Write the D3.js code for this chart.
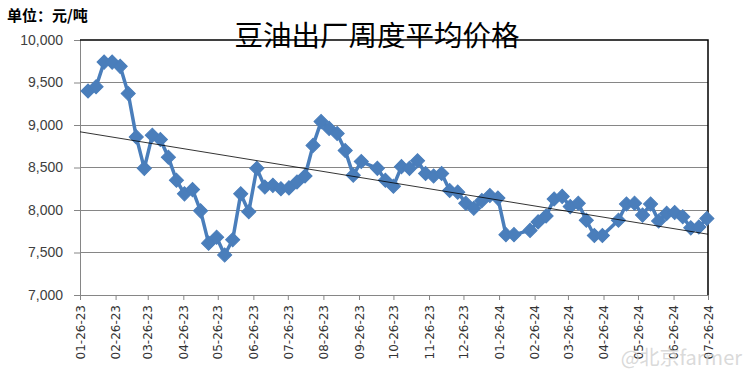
<!DOCTYPE html>
<html>
<head>
<meta charset="utf-8">
<script src="https://cdn.jsdelivr.net/npm/d3@7"></script>
<style>
  body { margin: 0; background: #fff; }
  svg { display: block; }
</style>
</head>
<body>
<div id="chart"></div>
<script>
// weekly soybean oil ex-factory price (元/吨), Thursdays
const dates = [
  "2023-02-02","2023-02-09","2023-02-16","2023-02-23","2023-03-02","2023-03-09","2023-03-16","2023-03-23","2023-03-30",
  "2023-04-06","2023-04-13","2023-04-20","2023-04-27","2023-05-04","2023-05-11","2023-05-18","2023-05-25",
  "2023-06-01","2023-06-08","2023-06-15","2023-06-22","2023-06-29","2023-07-06","2023-07-13","2023-07-20","2023-07-27",
  "2023-08-03","2023-08-10","2023-08-17","2023-08-24","2023-08-31","2023-09-07","2023-09-14","2023-09-21","2023-09-28",
  "2023-10-12","2023-10-19","2023-10-26","2023-11-02","2023-11-09","2023-11-16","2023-11-23","2023-11-30",
  "2023-12-07","2023-12-14","2023-12-21","2023-12-28","2024-01-04","2024-01-11","2024-01-18","2024-01-25",
  "2024-02-01","2024-02-08","2024-02-22","2024-02-29","2024-03-07","2024-03-14","2024-03-21","2024-03-28",
  "2024-04-04","2024-04-11","2024-04-18","2024-04-25","2024-05-09","2024-05-16","2024-05-23","2024-05-30",
  "2024-06-06","2024-06-13","2024-06-20","2024-06-27","2024-07-04","2024-07-11","2024-07-18","2024-07-25"
];
const prices = [
  9400, 9450, 9740, 9740, 9690, 9370, 8860, 8490, 8880,
  8830, 8620, 8350, 8190, 8240, 7990, 7610, 7680,
  7470, 7650, 8190, 7980, 8490, 8270, 8290, 8250, 8260,
  8330, 8400, 8760, 9040, 8960, 8900, 8700, 8410, 8570,
  8490, 8350, 8280, 8510, 8490, 8580, 8430, 8400,
  8430, 8230, 8210, 8080, 8020, 8110, 8170, 8140,
  7710, 7710, 7760, 7860, 7930, 8130, 8160, 8040,
  8080, 7880, 7700, 7700, 7880, 8070, 8080, 7940,
  8070, 7870, 7960, 7970, 7920, 7790, 7800, 7900
];

const xTickLabels = [
  "01-26-23","02-26-23","03-26-23","04-26-23","05-26-23","06-26-23","07-26-23","08-26-23","09-26-23","10-26-23",
  "11-26-23","12-26-23","01-26-24","02-26-24","03-26-24","04-26-24","05-26-24","06-26-24","07-26-24"
];
const yTicks = [7000, 7500, 8000, 8500, 9000, 9500, 10000];

// linear trendline read at the axis ends
const trendDates = ["2023-01-26", "2024-07-26"];
const trendValues = [8920, 7715];

const title = "豆油出厂周度平均价格";
const unitLabel = "单位：元/吨";

const width = 750;
const height = 377;
const margin = { top: 40, right: 42, bottom: 82, left: 80 };

const parseDate = d3.timeParse("%Y-%m-%d");
const parseTick = d3.timeParse("%m-%d-%y");

const data = dates.map((d, i) => ({ date: parseDate(d), value: prices[i] }));

const svg = d3.select("#chart")
  .append("svg")
  .attr("width", width)
  .attr("height", height)
  .style("background", "#fff");

const xScale = d3.scaleTime()
  .domain([parseTick(xTickLabels[0]), parseTick(xTickLabels[xTickLabels.length - 1])])
  .range([margin.left, width - margin.right]);

const yScale = d3.scaleLinear()
  .domain([7000, 10000])
  .range([height - margin.bottom, margin.top]);

// horizontal grid
svg.append("g")
  .selectAll("line")
  .data(yTicks.slice(1, -1))
  .enter()
  .append("line")
  .attr("x1", margin.left)
  .attr("x2", width - margin.right)
  .attr("y1", d => yScale(d))
  .attr("y2", d => yScale(d))
  .attr("stroke", "#868686")
  .attr("stroke-width", 1)
  .attr("shape-rendering", "crispEdges");

// y axis
const yAxis = svg.append("g")
  .attr("transform", `translate(${margin.left},0)`)
  .call(d3.axisLeft(yScale).tickValues(yTicks).tickSize(6).tickPadding(11)
    .tickFormat(d3.format(",")));
yAxis.select(".domain").attr("stroke", "#868686");
yAxis.selectAll(".tick line").attr("stroke", "#868686");
yAxis.selectAll("text")
  .attr("fill", "#404040")
  .style("font-family", "'Liberation Sans', Arial, sans-serif")
  .style("font-size", "14px");

// x axis
const xAxis = svg.append("g")
  .attr("transform", `translate(0,${height - margin.bottom})`)
  .call(d3.axisBottom(xScale).tickValues(xTickLabels.map(parseTick)).tickSize(5)
    .tickFormat(d3.timeFormat("%m-%d-%y")));
xAxis.select(".domain").attr("stroke", "#868686");
xAxis.selectAll(".tick line").attr("stroke", "#868686");
xAxis.selectAll("text")
  .attr("fill", "#333")
  .attr("transform", "rotate(-90)")
  .attr("text-anchor", "end")
  .attr("x", -10)
  .attr("y", 0)
  .attr("dy", "0.35em")
  .style("font-family", "'DejaVu Sans', sans-serif")
  .style("font-size", "12px");

// top and right frame (black)
svg.append("path")
  .attr("d", `M${margin.left},${margin.top}H${width - margin.right}V${height - margin.bottom}`)
  .attr("fill", "none")
  .attr("stroke", "#000")
  .attr("stroke-width", 1.5);

// price line
const line = d3.line()
  .x(d => xScale(d.date))
  .y(d => yScale(d.value));

svg.append("path")
  .datum(data)
  .attr("d", line)
  .attr("fill", "none")
  .attr("stroke", "#4a7ebb")
  .attr("stroke-width", 3.5)
  .attr("stroke-linejoin", "round");

// diamond markers
const diamond = d3.symbol().type(d3.symbolSquare).size(100);
svg.append("g")
  .selectAll("path")
  .data(data)
  .enter()
  .append("path")
  .attr("d", diamond)
  .attr("transform", d => `translate(${xScale(d.date)},${yScale(d.value)}) rotate(45)`)
  .attr("fill", "#4a7ebb")
  .attr("stroke", "#4a7ebb")
  .attr("stroke-width", 1);

// trendline
svg.append("line")
  .attr("x1", xScale(parseDate(trendDates[0])))
  .attr("y1", yScale(trendValues[0]))
  .attr("x2", xScale(parseDate(trendDates[1])))
  .attr("y2", yScale(trendValues[1]))
  .attr("stroke", "#000")
  .attr("stroke-width", 0.8);

// title
svg.append("text")
  .attr("x", 377)
  .attr("y", 46)
  .attr("text-anchor", "middle")
  .style("font-family", "'Noto Sans CJK SC', sans-serif")
  .style("font-size", "28.5px")
  .style("fill", "#000")
  .text(title);

// unit label
svg.append("text")
  .attr("x", 7)
  .attr("y", 21)
  .style("font-family", "'Noto Sans CJK SC', sans-serif")
  .style("font-size", "15px")
  .style("font-weight", "bold")
  .style("fill", "#000")
  .text(unitLabel);

// watermark
svg.append("text")
  .attr("x", 742)
  .attr("y", 365)
  .attr("text-anchor", "end")
  .style("font-family", "'Noto Sans CJK SC', sans-serif")
  .style("font-size", "20px")
  .style("fill", "#d0d0d0")
  .style("fill-opacity", 0.8)
  .text("@北京farmer");
</script>
</body>
</html>
